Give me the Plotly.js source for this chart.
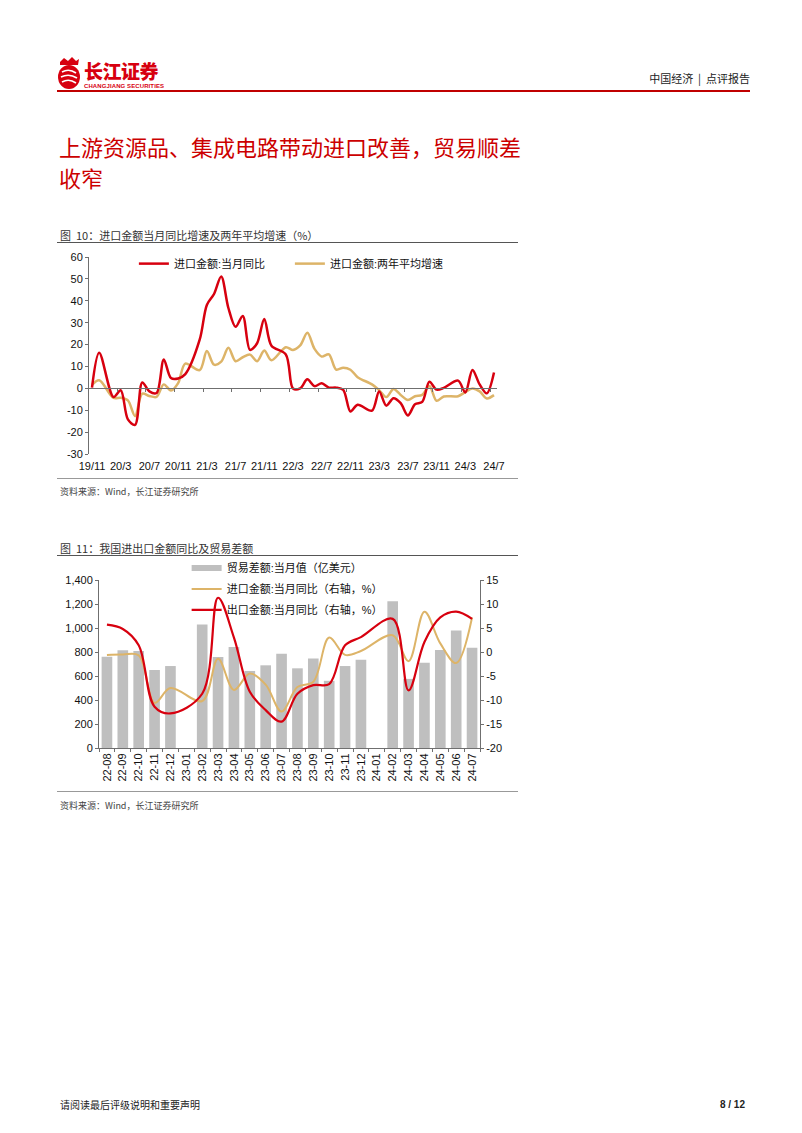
<!DOCTYPE html>
<html><head><meta charset="utf-8">
<script src="https://cdn.plot.ly/plotly-3.0.1.min.js"></script>
<style>
body{margin:0;background:#fff;}
#page{position:relative;width:802px;height:1133px;overflow:hidden;background:#fff;font-family:"Liberation Sans","Noto Sans CJK SC",sans-serif;}
.abs{position:absolute;white-space:nowrap;}
.cjk{font-family:"Noto Sans CJK SC","Liberation Sans",sans-serif;}
.hr{position:absolute;}
</style></head><body><div id="page">

<!-- header -->
<svg class="abs" style="left:56px;top:56px" width="26" height="34" viewBox="0 0 26 34">
  <path d="M4 6 L8 2 L12 5 L16 1 L20 5 L23 3 L22 9 L4 9 Z" fill="#D7000F"/>
  <ellipse cx="13" cy="21" rx="11" ry="12" fill="#D7000F"/>
  <path d="M6 16 Q13 12 20 17" stroke="#fff" stroke-width="1.6" fill="none"/>
  <path d="M5 21 Q13 17 21 22" stroke="#fff" stroke-width="1.6" fill="none"/>
  <path d="M6 26 Q13 22 20 27" stroke="#fff" stroke-width="1.6" fill="none"/>
</svg>
<div class="abs cjk" style="left:84px;top:60px;font-size:19px;line-height:21px;font-weight:900;color:#D7000F;letter-spacing:-0.5px">长江证券</div>
<div class="abs" style="left:84px;top:83px;font-size:6px;line-height:6px;font-weight:bold;color:#D7000F;letter-spacing:0.1px">CHANGJIANG SECURITIES</div>
<div class="abs cjk" style="right:52px;top:72px;font-size:11px;line-height:12px;color:#222">中国经济 &nbsp;|&nbsp; 点评报告</div>
<div class="hr" style="left:57px;top:90px;width:693px;height:2px;background:#C00000"></div>

<!-- title -->
<div class="abs cjk" style="left:59px;top:131px;font-size:22px;line-height:31px;color:#CC0000">上游资源品、集成电路带动进口改善，贸易顺差<br>收窄</div>

<!-- figure 10 -->
<div class="abs cjk" style="left:60px;top:229px;font-size:11px;line-height:12px;color:#333">图&nbsp; 10：进口金额当月同比增速及两年平均增速（%）</div>
<div class="hr" style="left:57px;top:242px;width:461px;height:1px;background:#555"></div>
<div id="c1" class="abs" style="left:57px;top:244px;width:461px;height:234px"></div>
<div class="hr" style="left:57px;top:478px;width:461px;height:1px;background:#999"></div>
<div class="abs cjk" style="left:60px;top:487px;font-size:9px;line-height:10px;color:#444">资料来源：Wind，长江证券研究所</div>

<!-- figure 11 -->
<div class="abs cjk" style="left:60px;top:542px;font-size:11px;line-height:12px;color:#333">图&nbsp; 11：我国进出口金额同比及贸易差额</div>
<div class="hr" style="left:57px;top:555px;width:461px;height:1px;background:#555"></div>
<div id="c2" class="abs" style="left:57px;top:557px;width:461px;height:233px"></div>
<div class="hr" style="left:57px;top:791px;width:461px;height:1px;background:#999"></div>
<div class="abs cjk" style="left:60px;top:801px;font-size:9px;line-height:10px;color:#444">资料来源：Wind，长江证券研究所</div>

<!-- footer -->
<div class="abs cjk" style="left:60px;top:1099px;font-size:10px;line-height:11px;color:#222">请阅读最后评级说明和重要声明</div>
<div class="abs" style="right:57px;top:1099px;font-size:10px;line-height:11px;color:#222;font-weight:bold">8 / 12</div>

</div>
<script>
const FONT = '"Liberation Sans","Noto Sans CJK SC",sans-serif';

// ---------- Figure 10 data ----------
const months1 = ['19/11','19/12','20/1','20/2','20/3','20/4','20/5','20/6','20/7','20/8','20/9','20/10','20/11','20/12',
 '21/1','21/2','21/3','21/4','21/5','21/6','21/7','21/8','21/9','21/10','21/11','21/12',
 '22/1','22/2','22/3','22/4','22/5','22/6','22/7','22/8','22/9','22/10','22/11','22/12',
 '23/1','23/2','23/3','23/4','23/5','23/6','23/7','23/8','23/9','23/10','23/11','23/12',
 '24/1','24/2','24/3','24/4','24/5','24/6','24/7'];
const importMonthlyYoY = [0.3,16.3,null,-4.0,-0.9,-14.2,-16.7,2.7,-1.4,-2.1,13.2,4.7,4.5,6.5,
 null,22.2,38.1,43.1,51.1,36.7,28.1,33.1,17.6,20.6,31.7,19.5,
 null,15.5,-0.1,0.0,4.1,1.0,2.3,0.3,0.3,-0.7,-10.6,-7.5,
 null,-10.2,-1.4,-7.9,-4.5,-6.8,-12.4,-7.3,-6.2,3.0,-0.6,0.2,
 null,3.5,-1.9,8.4,1.8,-2.3,7.2];
const importTwoYearAvg = [1.6,3.7,null,-4.4,-4.3,-5.5,-12.7,-2.4,-3.5,-3.9,1.8,-1.0,2.4,11.3,
 null,8.3,17.0,10.8,12.2,18.5,12.4,14.2,15.4,12.4,17.3,12.8,
 null,18.8,17.5,19.6,25.4,18.0,14.5,15.5,8.6,9.4,8.5,5.1,
 null,1.8,-0.8,-4.0,-0.3,-3.0,-5.3,-3.6,-3.0,1.1,-5.7,-3.7,
 null,-3.6,-1.7,-0.1,-1.4,-4.6,-3.1];
const xLabels1 = ['19/11','20/3','20/7','20/11','21/3','21/7','21/11','22/3','22/7','22/11','23/3','23/7','23/11','24/3','24/7'];
const yVals1 = [60,50,40,30,20,10,0,-10,-20,-30];
const yText1 = ['60','50','40','30','20','10','0','-10','-20','-30'];

// ---------- Figure 11 data ----------
const months2 = ['22-08','22-09','22-10','22-11','22-12','23-01','23-02','23-03','23-04','23-05','23-06','23-07',
 '23-08','23-09','23-10','23-11','23-12','24-01','24-02','24-03','24-04','24-05','24-06','24-07'];
const tradeBalance = [760,814,808,650,683,null,1029,758,841,642,689,785,664,745,560,683,735,null,1222,576,711,816,979,835];
const importYoY2 = [-0.6,-0.5,-0.7,-10.6,-7.5,null,-10.2,-1.4,-7.9,-4.5,-6.8,-12.4,-7.3,-6.2,3.0,-0.6,0.2,null,3.5,-1.9,8.4,1.8,-2.3,7.2];
const exportYoY2 = [5.7,4.8,1.4,-11.4,-12.8,null,-8.7,11.3,3.0,-8.3,-12.1,-14.5,-8.7,-6.9,-6.7,1.4,3.1,null,6.9,-8.0,2.1,7.2,8.4,6.9];
const yLeftVals2 = [0,200,400,600,800,1000,1200,1400];
const yLeftText2 = ['0','200','400','600','800','1,000','1,200','1,400'];
const yRightVals2 = [-20,-15,-10,-5,0,5,10,15];
const yRightText2 = ['-20','-15','-10','-5','0','5','10','15'];

const RED = '#D7000F';
const ORANGE = '#DDB468';
const AXIS = '#6f6f6f';

// ---------- Figure 10 ----------
const t1 = [
 {x: months1, y: importTwoYearAvg, type:'scatter', mode:'lines', name:'进口金额:两年平均增速',
  line:{color:ORANGE, width:2.5, shape:'spline', smoothing:0.9}, connectgaps:true, legendrank:2},
 {x: months1, y: importMonthlyYoY, type:'scatter', mode:'lines', name:'进口金额:当月同比',
  line:{color:RED, width:2.5, shape:'spline', smoothing:0.9}, connectgaps:true, legendrank:1},
 {x: months1, y: months1.map(()=>null), xaxis:'x2', yaxis:'y', type:'scatter', mode:'lines', showlegend:false, hoverinfo:'skip'}
];
const xr1 = [-0.418, months1.length - 1 + 0.418];
const l1 = {
 width:461, height:234, margin:{l:32, r:21, t:13, b:24, autoexpand:false},
 paper_bgcolor:'rgba(0,0,0,0)', plot_bgcolor:'rgba(0,0,0,0)',
 font:{family:FONT, size:11, color:'#111'},
 showlegend:true,
 legend:{orientation:'h', x:0.11, xanchor:'left', y:1.04, yanchor:'top', bgcolor:'rgba(0,0,0,0)',
   font:{size:11, color:'#111'}, entrywidth:111, entrywidthmode:'pixels', traceorder:'normal'},
 xaxis:{type:'category', range:xr1, tickmode:'array', tickvals:xLabels1, ticktext:xLabels1,
   ticks:'', showline:false, showgrid:false, zeroline:false, ticklabelstandoff:4, tickfont:{size:11, color:'#111'}},
 xaxis2:{type:'category', overlaying:'x', anchor:'free', position:1/3, range:xr1, tickmode:'array', tickvals:xLabels1,
   showticklabels:false, showline:true, linecolor:AXIS, linewidth:1, ticks:'outside', ticklen:3, tickcolor:AXIS,
   tickson:'boundaries', showgrid:false, zeroline:false},
 yaxis:{range:[-30,60], tickmode:'array', tickvals:yVals1, ticktext:yText1, showline:true, linecolor:AXIS, linewidth:1,
   ticks:'outside', ticklen:3, tickcolor:AXIS, showgrid:false, zeroline:false, tickfont:{size:11, color:'#111'}}
};
Plotly.newPlot('c1', t1, l1, {displayModeBar:false, staticPlot:true});

// ---------- Figure 11 ----------
const t2 = [
 {x: months2, y: tradeBalance, type:'bar', name:'贸易差额:当月值（亿美元）', marker:{color:'#BFBFBF'}, showlegend:false},
 {x: [months2[0]], y:[null], type:'scatter', mode:'lines', name:'贸易差额:当月值（亿美元）', legendgroup:'a',
  line:{color:'#BFBFBF', width:6}, legendrank:1},
 {x: months2, y: importYoY2, type:'scatter', mode:'lines', yaxis:'y2', name:'进口金额:当月同比（右轴，%）', legendgroup:'b',
  line:{color:ORANGE, width:2, shape:'spline', smoothing:1}, connectgaps:true, legendrank:2},
 {x: months2, y: exportYoY2, type:'scatter', mode:'lines', yaxis:'y2', name:'出口金额:当月同比（右轴，%）', legendgroup:'c',
  line:{color:RED, width:2.2, shape:'spline', smoothing:1}, connectgaps:true, legendrank:3}
];
const l2 = {
 width:461, height:233, margin:{l:42.3, r:37.7, t:22.5, b:41.5, autoexpand:false},
 paper_bgcolor:'rgba(0,0,0,0)', plot_bgcolor:'rgba(0,0,0,0)',
 font:{family:FONT, size:11, color:'#111'},
 bargap:0.33, showlegend:true,
 legend:{orientation:'v', x:0.23, xanchor:'left', y:1.158, yanchor:'top', bgcolor:'rgba(0,0,0,0)',
   font:{size:11, color:'#111'}, traceorder:'grouped', tracegroupgap:2},
 xaxis:{type:'category', range:[-0.5, months2.length-0.5], showline:true, linecolor:AXIS, linewidth:1,
   ticks:'outside', ticklen:3, tickcolor:AXIS, tickson:'boundaries', tickangle:-90, showgrid:false,
   tickfont:{size:11, color:'#111'}},
 yaxis:{range:[0,1400], tickmode:'array', tickvals:yLeftVals2, ticktext:yLeftText2, showline:true, linecolor:AXIS, linewidth:1,
   ticks:'outside', ticklen:3, tickcolor:AXIS, showgrid:false, zeroline:false, tickfont:{size:11, color:'#111'}},
 yaxis2:{overlaying:'y', side:'right', range:[-20,15], tickmode:'array', tickvals:yRightVals2, ticktext:yRightText2,
   showline:true, linecolor:AXIS, linewidth:1, ticks:'outside', ticklen:3, tickcolor:AXIS, showgrid:false, zeroline:false,
   tickfont:{size:11, color:'#111'}}
};
Plotly.newPlot('c2', t2, l2, {displayModeBar:false, staticPlot:true});
</script>
</body></html>
